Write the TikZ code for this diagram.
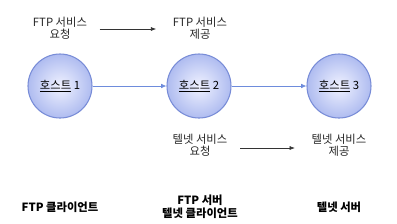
\documentclass[tikz,border=0pt]{standalone}
\usepackage{fontspec}
\setmainfont{Noto Sans CJK KR}
\usetikzlibrary{arrows.meta}
\begin{document}
\begin{tikzpicture}[x=0.75pt,y=-0.75pt,
  host/.style={circle,minimum size=48pt,inner sep=0pt,draw={rgb,255:red,120;green,140;blue,215},line width=0.8pt,
    inner color={rgb,255:red,240;green,242;blue,255},outer color={rgb,255:red,175;green,188;blue,240},font=\fontsize{8.5}{10}\selectfont},
  lbl/.style={font=\fontsize{8.5}{9}\selectfont,align=center,text=black!85},
  bold/.style={font=\fontsize{8.5}{9.5}\selectfont\bfseries,align=center},
  blarr/.style={draw={rgb,255:red,110;green,140;blue,220},line width=0.6pt,-{Latex[length=4pt,width=3.5pt]}},
  karr/.style={draw=black!80,line width=0.5pt,-{Latex[length=4pt,width=3pt]}}]
\useasboundingbox (0,0) rectangle (397,223);
\node[host] (h1) at (60,86) {\underline{호스트} 1};
\node[host] (h2) at (199,86) {\underline{호스트} 2};
\node[host] (h3) at (339,86) {\underline{호스트} 3};
\draw[blarr] (h1) -- (h2);
\draw[blarr] (h2) -- (h3);
\node[lbl] (t1) at (60,28) {FTP 서비스\\요청};
\node[lbl] (t2) at (200,28) {FTP 서비스\\제공};
\coordinate (a1) at ([xshift=6pt,yshift=-0.75pt]t1.east);
\coordinate (a2) at ([xshift=-9pt,yshift=-0.75pt]t2.west);
\draw[karr] (a1) -- (a2);
\node[lbl] (b1) at (200,145) {텔넷 서비스\\요청};
\node[lbl] (b2) at (339,145) {텔넷 서비스\\제공};
\coordinate (c1) at ([xshift=6pt,yshift=-2.25pt]b1.east);
\coordinate (c2) at ([xshift=-9pt,yshift=-2.25pt]b2.west);
\draw[karr] (c1) -- (c2);
\node[bold] (f1) at (60,207) {FTP 클라이언트};
\node[bold] (f2) at (200,207) {FTP 서버\\텔넷 클라이언트};
\node[bold] (f3) at (339,207) {텔넷 서버};
\end{tikzpicture}
\end{document}
